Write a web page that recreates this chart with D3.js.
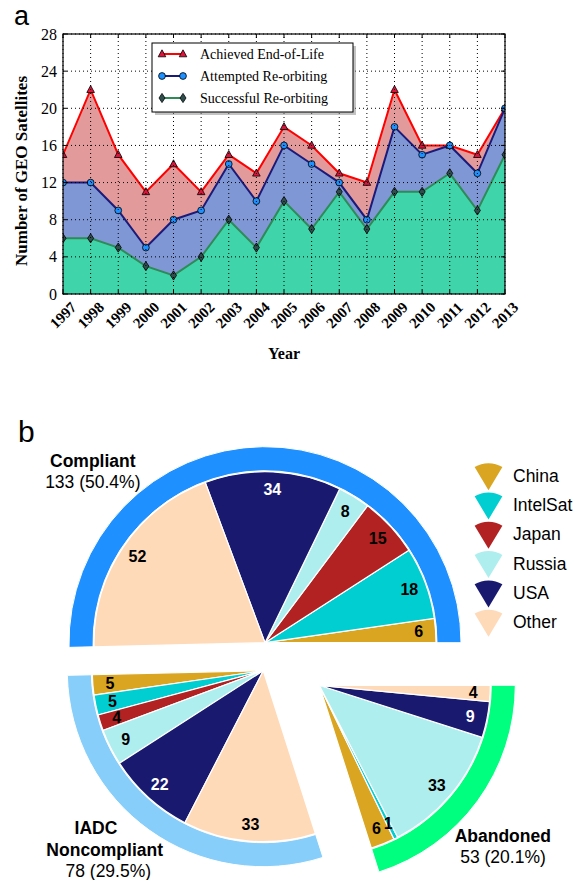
<!DOCTYPE html>
<html><head><meta charset="utf-8">
<script src="https://cdn.jsdelivr.net/npm/d3@7"></script>
<style>body{margin:0;background:#fff}</style>
</head><body><svg id="c" width="586" height="880" xmlns="http://www.w3.org/2000/svg"></svg>
<script>
// ---------- Data: panel a ----------
const years = [1997,1998,1999,2000,2001,2002,2003,2004,2005,2006,2007,2008,2009,2010,2011,2012,2013];
const achieved   = [15,22,15,11,14,11,15,13,18,16,13,12,22,16,16,15,20];
const attempted  = [12,12,9,5,8,9,14,10,16,14,12,8,18,15,16,13,20];
const successful = [6,6,5,3,2,4,8,5,10,7,11,7,11,11,13,9,15];
const yTicks = [0,4,8,12,16,20,24,28];
const seriesNames = ["Achieved End-of-Life","Attempted Re-orbiting","Successful Re-orbiting"];

// ---------- Data: panel b ----------
const countries = ["China","IntelSat","Japan","Russia","USA","Other"];
const groupNames = ["Compliant","IADC\nNoncompliant","Abandoned"];
const compliant    = [6,18,15,8,34,52];
const noncompliant = [5,5,4,9,22,33];
const abandoned    = [6,1,0,33,9,4];

// ---------- Styles / layout ----------
const serif = "'Liberation Serif','Times New Roman',serif";
const sans = "'Liberation Sans',Arial,sans-serif";
const seriesStyle = [
  {area:"#e29a9a", line:"#ff0000", marker:"tri", mfill:"#dc143c"},
  {area:"#7f97d4", line:"#1a1a7a", marker:"circle", mfill:"#1e90ff"},
  {area:"#40d4aa", line:"#2e8b57", marker:"diamond", mfill:"#2f4f4f"}
];
const countryColors = ["#daa520","#00ced1","#b22222","#afeeee","#191970","#ffdab9"];
const countryText = ["#000","#000","#000","#000","#fff","#000"];
const groupColors = ["#1e90ff","#87cefa","#00ff7f"];
const groupCenters = [[265,642.7],[263.3,670.7],[319.3,685.3]];

const svg = d3.select("#c");

// ================= Panel a =================
const x = d3.scaleLinear().domain([1997,2013]).range([63,505]);
const y = d3.scaleLinear().domain([0,28]).range([294,34]);

svg.append("text").attr("x",14).attr("y",25).attr("font-family",sans).attr("font-size",27).text("a");

svg.append("clipPath").attr("id","plotclip").append("rect")
  .attr("x",x(1997)).attr("y",y(28)).attr("width",x(2013)-x(1997)).attr("height",y(0)-y(28));

const plot = svg.append("g").attr("clip-path","url(#plotclip)");
const seriesData = [achieved, attempted, successful];

seriesData.forEach((vals,i)=>{
  const area = d3.area().x((d,j)=>x(years[j])).y0(y(0)).y1(d=>y(d));
  plot.append("path").attr("d",area(vals)).attr("fill",seriesStyle[i].area);
});

// grid
const grid = svg.append("g");
years.forEach(yr=>{
  grid.append("line").attr("x1",x(yr)).attr("x2",x(yr)).attr("y1",y(0)).attr("y2",y(28))
    .attr("stroke","#000").attr("stroke-width",1).attr("stroke-dasharray","1,3");
});
yTicks.forEach(t=>{
  grid.append("line").attr("x1",x(1997)).attr("x2",x(2013)).attr("y1",y(t)).attr("y2",y(t))
    .attr("stroke","#000").attr("stroke-width",1).attr("stroke-dasharray","1,3");
});

function marker(g, type, cx, cy, fill){
  if(type==="tri"){
    g.append("path").attr("d",`M${cx},${cy-4.2}L${cx+3.8},${cy+2.8}L${cx-3.8},${cy+2.8}Z`)
      .attr("fill",fill).attr("stroke","#000").attr("stroke-width",0.8);
  } else if(type==="circle"){
    g.append("circle").attr("cx",cx).attr("cy",cy).attr("r",3.4)
      .attr("fill",fill).attr("stroke","#000").attr("stroke-width",0.8);
  } else {
    g.append("path").attr("d",`M${cx},${cy-4.6}L${cx+3},${cy}L${cx},${cy+4.6}L${cx-3},${cy}Z`)
      .attr("fill",fill).attr("stroke","#000").attr("stroke-width",0.8);
  }
}

seriesData.forEach((vals,i)=>{
  const line = d3.line().x((d,j)=>x(years[j])).y(d=>y(d));
  plot.append("path").attr("d",line(vals)).attr("fill","none")
    .attr("stroke",seriesStyle[i].line).attr("stroke-width",2);
});
seriesData.forEach((vals,i)=>{
  vals.forEach((v,j)=>marker(plot, seriesStyle[i].marker, x(years[j]), y(v), seriesStyle[i].mfill));
});

// frame
svg.append("rect").attr("x",x(1997)).attr("y",y(28)).attr("width",x(2013)-x(1997)).attr("height",y(0)-y(28))
  .attr("fill","none").attr("stroke","#000").attr("stroke-width",1.2);

// ticks (inward, all sides)
const ticks = svg.append("g").attr("stroke","#000").attr("stroke-width",1);
years.forEach(yr=>{
  ticks.append("line").attr("x1",x(yr)).attr("x2",x(yr)).attr("y1",y(0)).attr("y2",y(0)-4);
  ticks.append("line").attr("x1",x(yr)).attr("x2",x(yr)).attr("y1",y(28)).attr("y2",y(28)+4);
});
yTicks.forEach(t=>{
  ticks.append("line").attr("x1",x(1997)).attr("x2",x(1997)+4).attr("y1",y(t)).attr("y2",y(t));
  ticks.append("line").attr("x1",x(2013)).attr("x2",x(2013)-4).attr("y1",y(t)).attr("y2",y(t));
});

// tick labels
yTicks.forEach(t=>{
  svg.append("text").attr("x",x(1997)-6).attr("y",y(t)).attr("dy","0.35em")
    .attr("text-anchor","end").attr("font-family",serif).attr("font-size",16).text(t);
});
years.forEach(yr=>{
  svg.append("text").attr("transform",`translate(${x(yr)},${y(0)+21}) rotate(-45)`)
    .attr("text-anchor","middle").attr("dy","0.35em")
    .attr("font-family",serif).attr("font-weight","bold").attr("font-size",15).text(yr);
});
svg.append("text").attr("x",(x(1997)+x(2013))/2).attr("y",359).attr("text-anchor","middle")
  .attr("font-family",serif).attr("font-weight","bold").attr("font-size",16).text("Year");
svg.append("text").attr("transform","translate(27,171) rotate(-90)").attr("text-anchor","middle")
  .attr("font-family",serif).attr("font-weight","bold").attr("font-size",17).text("Number of GEO Satellites");

// legend
const lg = svg.append("g");
lg.append("rect").attr("x",155).attr("y",46).attr("width",201).attr("height",69).attr("fill","#888").attr("opacity",0.5);
lg.append("rect").attr("x",152).attr("y",43).attr("width",201).attr("height",69).attr("fill","#fff").attr("stroke","#000").attr("stroke-width",1);
seriesNames.forEach((nm,i)=>{
  const ly = 54 + i*22;
  lg.append("line").attr("x1",162).attr("x2",183).attr("y1",ly).attr("y2",ly)
    .attr("stroke",seriesStyle[i].line).attr("stroke-width",2);
  marker(lg, seriesStyle[i].marker, 162, ly, seriesStyle[i].mfill);
  marker(lg, seriesStyle[i].marker, 183, ly, seriesStyle[i].mfill);
  lg.append("text").attr("x",200).attr("y",ly).attr("dy","0.35em")
    .attr("font-family",serif).attr("font-size",14).text(nm);
});

// ================= Panel b =================
svg.append("text").attr("x",18).attr("y",442).attr("font-family",sans).attr("font-size",30).text("b");

const groupVals = [compliant, noncompliant, abandoned];
const totals = groupVals.map(v=>d3.sum(v));
const grand = d3.sum(totals);

const groupPie = d3.pie().sort(null).value(d=>d)
  .startAngle(Math.PI/2).endAngle(Math.PI/2 - 2*Math.PI);
const groupArcs = groupPie(totals);

const sliceArc = d3.arc().innerRadius(0).outerRadius(171);
const ringArc = d3.arc().innerRadius(172).outerRadius(196);
const labelR = 154;

groupArcs.forEach((ga,gi)=>{
  const [cx,cy] = groupCenters[gi];
  const g = svg.append("g").attr("transform",`translate(${cx},${cy})`);
  g.append("path").attr("d",ringArc(ga)).attr("fill",groupColors[gi]).attr("stroke","#fff").attr("stroke-width",1);
  const inner = d3.pie().sort(null).value(d=>d).startAngle(ga.startAngle).endAngle(ga.endAngle)(groupVals[gi]);
  inner.forEach((s,ci)=>{
    if(s.value===0) return;
    g.append("path").attr("d",sliceArc(s)).attr("fill",countryColors[ci]).attr("stroke","#fff").attr("stroke-width",1.2);
  });
  inner.forEach((s,ci)=>{
    if(s.value===0) return;
    const a = (s.startAngle+s.endAngle)/2;
    g.append("text").attr("x",labelR*Math.sin(a)).attr("y",-labelR*Math.cos(a)).attr("dy","0.36em")
      .attr("text-anchor","middle").attr("font-family",sans).attr("font-weight","bold")
      .attr("font-size",16).attr("fill",countryText[ci]).text(s.value);
  });
});

// group labels
const groupLabelPos = [
  [[92.8,467],[92.8,488]],
  [[96,834],[104.7,855.5],[108.3,876.7]],
  [[502.8,842.3],[503,863.3]]
];
groupNames.forEach((nm,gi)=>{
  const lines = nm.split("\n");
  const pct = `${totals[gi]} (${(totals[gi]/grand*100).toFixed(1)}%)`;
  const all = lines.concat([pct]);
  all.forEach((t,li)=>{
    const [lx,ly] = groupLabelPos[gi][li];
    svg.append("text").attr("x",lx).attr("y",ly).attr("text-anchor","middle")
      .attr("font-family",sans).attr("font-size",17.5)
      .attr("font-weight", li<lines.length ? "bold" : "normal").text(t);
  });
});

// legend
const legendIcon = d3.arc().innerRadius(0).outerRadius(27).startAngle(-0.54).endAngle(0.54);
countries.forEach((c,i)=>{
  const base = 481.7 + i*29.3;
  svg.append("path").attr("transform",`translate(488.5,${base+8.5})`).attr("d",legendIcon())
    .attr("fill",countryColors[i]);
  svg.append("text").attr("x",513).attr("y",base).attr("font-family",sans).attr("font-size",17.5).text(c);
});
</script>
</body></html>
